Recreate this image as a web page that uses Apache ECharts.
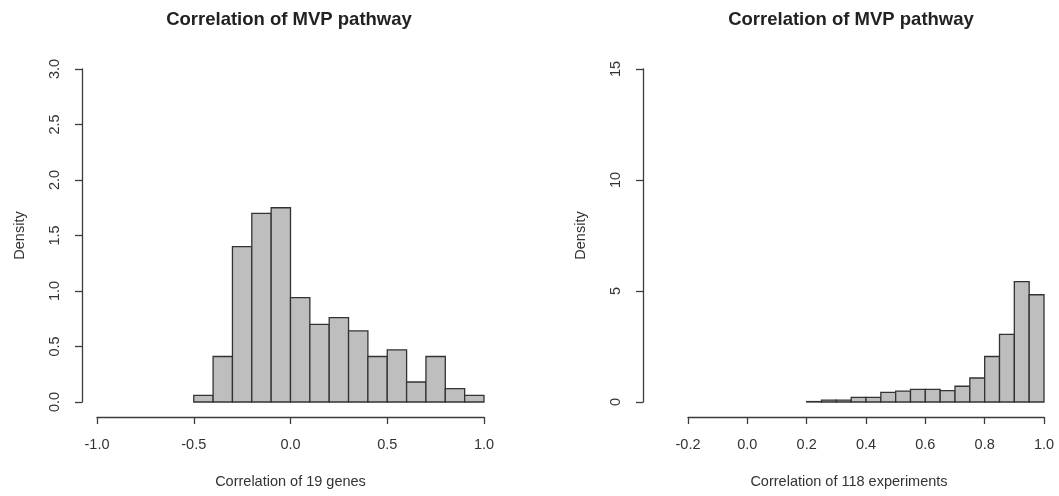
<!DOCTYPE html>
<html>
<head>
<meta charset="utf-8">
<script src="https://cdn.jsdelivr.net/npm/echarts@6/dist/echarts.min.js"></script>
<style>
  html, body { margin: 0; padding: 0; background: #fff; }
  #chart { width: 1059px; height: 496px; }
</style>
</head>
<body>
<div id="chart"></div>
<script>
// left histogram: correlation of 19 genes (bin edges + density per bin)
var geneBreaks = [-0.5, -0.4, -0.3, -0.2, -0.1, 0.0, 0.1, 0.2, 0.3, 0.4, 0.5, 0.6, 0.7, 0.8, 0.9, 1.0];
var geneDensity = [0.06, 0.41, 1.40, 1.70, 1.75, 0.94, 0.70, 0.76, 0.64, 0.41, 0.47, 0.18, 0.41, 0.12, 0.06];

// right histogram: correlation of 118 experiments
var exptBreaks = [0.20, 0.25, 0.30, 0.35, 0.40, 0.45, 0.50, 0.55, 0.60, 0.65, 0.70, 0.75, 0.80, 0.85, 0.90, 0.95, 1.00];
var exptDensity = [0.02, 0.08, 0.08, 0.21, 0.21, 0.43, 0.49, 0.57, 0.57, 0.51, 0.71, 1.08, 2.05, 3.05, 5.42, 4.83];

var titleText = 'Correlation of MVP pathway';
var xNames = ['Correlation of 19 genes', 'Correlation of 118 experiments'];
var yName = 'Density';

function toBins(breaks, dens) {
  return dens.map(function (d, i) { return [breaks[i], breaks[i + 1], d]; });
}

var FONT = '"Liberation Sans", Arial, sans-serif';
var TXT = '#333';
var LINE = '#3c3c3c';

function renderBar(params, api) {
  var p0 = api.coord([api.value(0), 0]);
  var p1 = api.coord([api.value(1), api.value(2)]);
  return {
    type: 'rect',
    shape: { x: p0[0], y: p1[1], width: p1[0] - p0[0], height: p0[1] - p1[1] },
    style: { fill: '#bebebe', stroke: '#333', lineWidth: 1.3 }
  };
}

function xAxisOf(idx, min, max, interval, name, namePad) {
  return {
    type: 'value', gridIndex: idx, min: min, max: max, interval: interval,
    offset: 15,
    name: name, nameLocation: 'middle', nameGap: 57,
    nameTextStyle: { color: TXT, fontFamily: FONT, fontSize: 14.5, padding: namePad },
    axisLine: { show: true, onZero: false, lineStyle: { color: LINE, width: 1.3 } },
    axisTick: { show: true, length: 7, lineStyle: { color: LINE, width: 1.3 } },
    axisLabel: { color: TXT, fontFamily: FONT, fontSize: 14.5, margin: 20,
      formatter: function (v) { return v.toFixed(1); } },
    splitLine: { show: false }
  };
}

function yAxisOf(idx, max, interval, offset, fmt) {
  return {
    type: 'value', gridIndex: idx, min: 0, max: max, interval: interval,
    offset: offset,
    name: yName, nameLocation: 'middle', nameRotate: 90, nameGap: 55,
    nameTextStyle: { color: TXT, fontFamily: FONT, fontSize: 14.5 },
    axisLine: { show: true, onZero: false, lineStyle: { color: LINE, width: 1.3 } },
    axisTick: { show: true, length: 7, lineStyle: { color: LINE, width: 1.3 } },
    axisLabel: { color: TXT, fontFamily: FONT, fontSize: 14.5, margin: 20, rotate: 90, formatter: fmt },
    splitLine: { show: false }
  };
}

var chart = echarts.init(document.getElementById('chart'));
chart.setOption({
  animation: false,
  backgroundColor: '#fff',
  title: [
    { text: titleText, left: 289, top: 10, textAlign: 'center', padding: 0,
      textStyle: { fontFamily: FONT, fontSize: 18.5, fontWeight: 'bold', color: '#222' } },
    { text: titleText, left: 851, top: 10, textAlign: 'center', padding: 0,
      textStyle: { fontFamily: FONT, fontSize: 18.5, fontWeight: 'bold', color: '#222' } }
  ],
  grid: [
    { left: 97, top: 69, width: 387, height: 333 },
    { left: 688, top: 69, width: 356, height: 333 }
  ],
  xAxis: [
    xAxisOf(0, -1, 1, 0.5, xNames[0], 0),
    xAxisOf(1, -0.2, 1, 0.2, xNames[1], [0, 34, 0, 0])
  ],
  yAxis: [
    yAxisOf(0, 3, 0.5, 15, function (v) { return v.toFixed(1); }),
    yAxisOf(1, 15, 5, 45, function (v) { return String(v); })
  ],
  series: [
    { type: 'custom', xAxisIndex: 0, yAxisIndex: 0, renderItem: renderBar,
      encode: { x: [0, 1], y: 2 }, data: toBins(geneBreaks, geneDensity), clip: false },
    { type: 'custom', xAxisIndex: 1, yAxisIndex: 1, renderItem: renderBar,
      encode: { x: [0, 1], y: 2 }, data: toBins(exptBreaks, exptDensity), clip: false }
  ]
});
</script>
</body>
</html>
